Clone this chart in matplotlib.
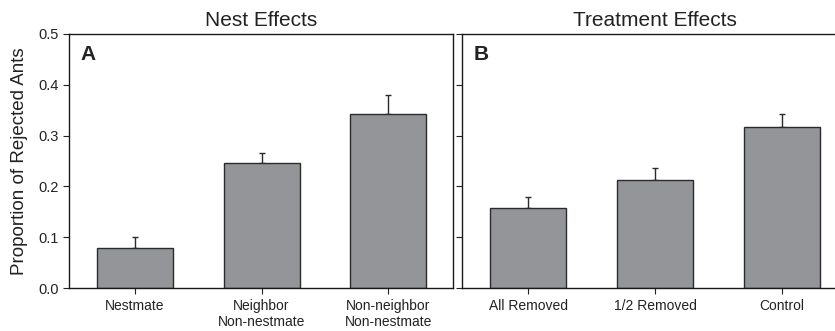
import numpy as np
import matplotlib
matplotlib.use('Agg')
import matplotlib.pyplot as plt

plt.rcParams['font.family'] = ['Liberation Sans', 'DejaVu Sans']

# Data
nest_labels = ['Nestmate', 'Neighbor\nNon-nestmate', 'Non-neighbor\nNon-nestmate']
nest_means = [0.079, 0.247, 0.343]
nest_err = [0.021, 0.019, 0.036]

treat_labels = ['All Removed', '1/2 Removed', 'Control']
treat_means = [0.157, 0.213, 0.316]
treat_err = [0.023, 0.024, 0.027]

yticks = [0.0, 0.1, 0.2, 0.3, 0.4, 0.5]

bar_color = '#939598'
edge_color = '#2b2b2b'

fig = plt.figure(figsize=(8.35, 3.31), dpi=100)
ax1 = fig.add_axes([0.0826, 0.1299, 0.4599, 0.7674])
ax2 = fig.add_axes([0.5533, 0.1299, 0.4611, 0.7674])

def draw_panel(ax, labels, means, errs, title, letter, show_ylabels):
    x = np.arange(len(labels))
    ax.bar(x, means, width=0.6, color=bar_color, edgecolor=edge_color, linewidth=1.0, zorder=2)
    ax.errorbar(x, means, yerr=[np.zeros(len(errs)), errs], fmt='none',
                ecolor=edge_color, elinewidth=1.0, capsize=2.3, capthick=1.0, zorder=1)
    ax.set_xlim(-0.52, 2.51)
    ax.set_ylim(0, 0.5)
    ax.set_xticks(x)
    ax.set_xticklabels(labels, fontsize=10, color='#222222', linespacing=1.15)
    ax.set_yticks(yticks)
    if show_ylabels:
        ax.set_yticklabels([f'{v:.1f}' for v in yticks], fontsize=10.5, color='#222222')
    else:
        ax.set_yticklabels([])
    ax.tick_params(axis='both', direction='out', length=4, width=0.8, color='#222222')
    ax.tick_params(axis='x', pad=4)
    ax.tick_params(axis='y', pad=3)
    for s in ax.spines.values():
        s.set_linewidth(1.0)
        s.set_color('#1a1a1a')
    ax.set_title(title, fontsize=15, pad=6, color='#222222')
    ax.text(0.029, 0.955, letter, transform=ax.transAxes, fontsize=15,
            fontweight='bold', va='top', ha='left', color='#222222')

draw_panel(ax1, nest_labels, nest_means, nest_err, 'Nest Effects', 'A', True)
draw_panel(ax2, treat_labels, treat_means, treat_err, 'Treatment Effects', 'B', False)
ax2.spines['right'].set_visible(False)

ax1.set_ylabel('Proportion of Rejected Ants', fontsize=13.5, color='#222222', labelpad=8)

fig.savefig('out.png', dpi=100)
